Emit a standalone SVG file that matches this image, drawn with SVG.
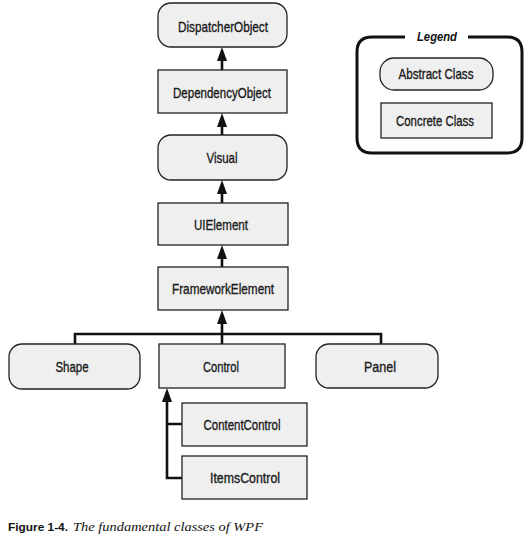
<svg xmlns="http://www.w3.org/2000/svg" width="530" height="542" viewBox="0 0 530 542">
<defs>
<marker id="ah" viewBox="0 0 14 10" refX="4" refY="5" markerWidth="14" markerHeight="10" markerUnits="userSpaceOnUse" orient="auto">
<path d="M0,0 L14,5 L0,10 Z" fill="#111"/>
</marker>
<style>
.box{fill:#efefef;stroke:#222;stroke-width:1.3}
.lbl{font-family:"Liberation Sans",Arial,sans-serif;font-size:15px;fill:#1a1a1a;stroke:#1a1a1a;stroke-width:0.35;text-anchor:middle}
.con{fill:none;stroke:#111;stroke-width:2.6}
</style>
</defs>
<rect width="530" height="542" fill="#fff"/>
<g id="connectors">
<path class="con" d="M222,70 V57" marker-end="url(#ah)"/>
<path class="con" d="M222,135 V123" marker-end="url(#ah)"/>
<path class="con" d="M222,203 V190" marker-end="url(#ah)"/>
<path class="con" d="M222,267 V255" marker-end="url(#ah)"/>
<path class="con" d="M222,344 V320" marker-end="url(#ah)"/>
<path class="con" d="M75,344 V334 H381 V344"/>
<path class="con" d="M182,424 H167 M182,478 H167 V398" marker-end="url(#ah)"/>
</g>
<g id="DispatcherObject"><rect class="box" x="158" y="3" width="129" height="44" rx="13"/><text class="lbl" x="223" y="32" textLength="90" lengthAdjust="spacingAndGlyphs">DispatcherObject</text></g>
<g id="DependencyObject"><rect class="box" x="158" y="70" width="129" height="43"/><text class="lbl" x="222" y="98" textLength="98" lengthAdjust="spacingAndGlyphs">DependencyObject</text></g>
<g id="Visual"><rect class="box" x="158" y="135" width="129" height="45" rx="13"/><text class="lbl" x="222" y="163" textLength="31" lengthAdjust="spacingAndGlyphs">Visual</text></g>
<g id="UIElement"><rect class="box" x="158" y="203" width="130" height="42"/><text class="lbl" x="221" y="230" textLength="54" lengthAdjust="spacingAndGlyphs">UIElement</text></g>
<g id="FrameworkElement"><rect class="box" x="158" y="267" width="130" height="43"/><text class="lbl" x="223" y="294" textLength="102" lengthAdjust="spacingAndGlyphs">FrameworkElement</text></g>
<g id="Shape"><rect class="box" x="9" y="344" width="131" height="45" rx="13"/><text class="lbl" x="72" y="372" textLength="33" lengthAdjust="spacingAndGlyphs">Shape</text></g>
<g id="Control"><rect class="box" x="159" y="344" width="126" height="44"/><text class="lbl" x="221" y="372" textLength="36" lengthAdjust="spacingAndGlyphs">Control</text></g>
<g id="Panel"><rect class="box" x="316" y="344" width="122" height="44" rx="13"/><text class="lbl" x="380" y="372" textLength="32" lengthAdjust="spacingAndGlyphs">Panel</text></g>
<g id="ContentControl"><rect class="box" x="182" y="403" width="125" height="43"/><text class="lbl" x="242" y="430" textLength="77" lengthAdjust="spacingAndGlyphs">ContentControl</text></g>
<g id="ItemsControl"><rect class="box" x="182" y="456" width="125" height="43"/><text class="lbl" x="245" y="483" textLength="70" lengthAdjust="spacingAndGlyphs">ItemsControl</text></g>
<g id="Legend">
<path d="M405,37 H372 Q357,37 357,52 V138 Q357,153 372,153 H507 Q522,153 522,138 V52 Q522,37 507,37 H468" fill="none" stroke="#111" stroke-width="3"/>
<text x="437" y="41" font-family="'Liberation Sans',Arial,sans-serif" font-size="13" font-weight="bold" font-style="italic" text-anchor="middle" fill="#111" textLength="40" lengthAdjust="spacingAndGlyphs">Legend</text>
<rect class="box" x="380" y="58" width="113" height="32" rx="14"/><text class="lbl" x="436" y="79" textLength="75" lengthAdjust="spacingAndGlyphs">Abstract Class</text>
<rect class="box" x="381" y="103" width="111" height="35"/><text class="lbl" x="435" y="126" textLength="78" lengthAdjust="spacingAndGlyphs">Concrete Class</text>
</g>
<text x="8" y="531" font-family="'Liberation Sans',Arial,sans-serif" font-weight="bold" font-size="11" fill="#111" textLength="60" lengthAdjust="spacingAndGlyphs">Figure 1-4.</text>
<text x="73" y="531" font-family="'Liberation Serif','Times New Roman',serif" font-style="italic" font-size="13" fill="#111" textLength="190" lengthAdjust="spacingAndGlyphs">The fundamental classes of WPF</text>
</svg>
